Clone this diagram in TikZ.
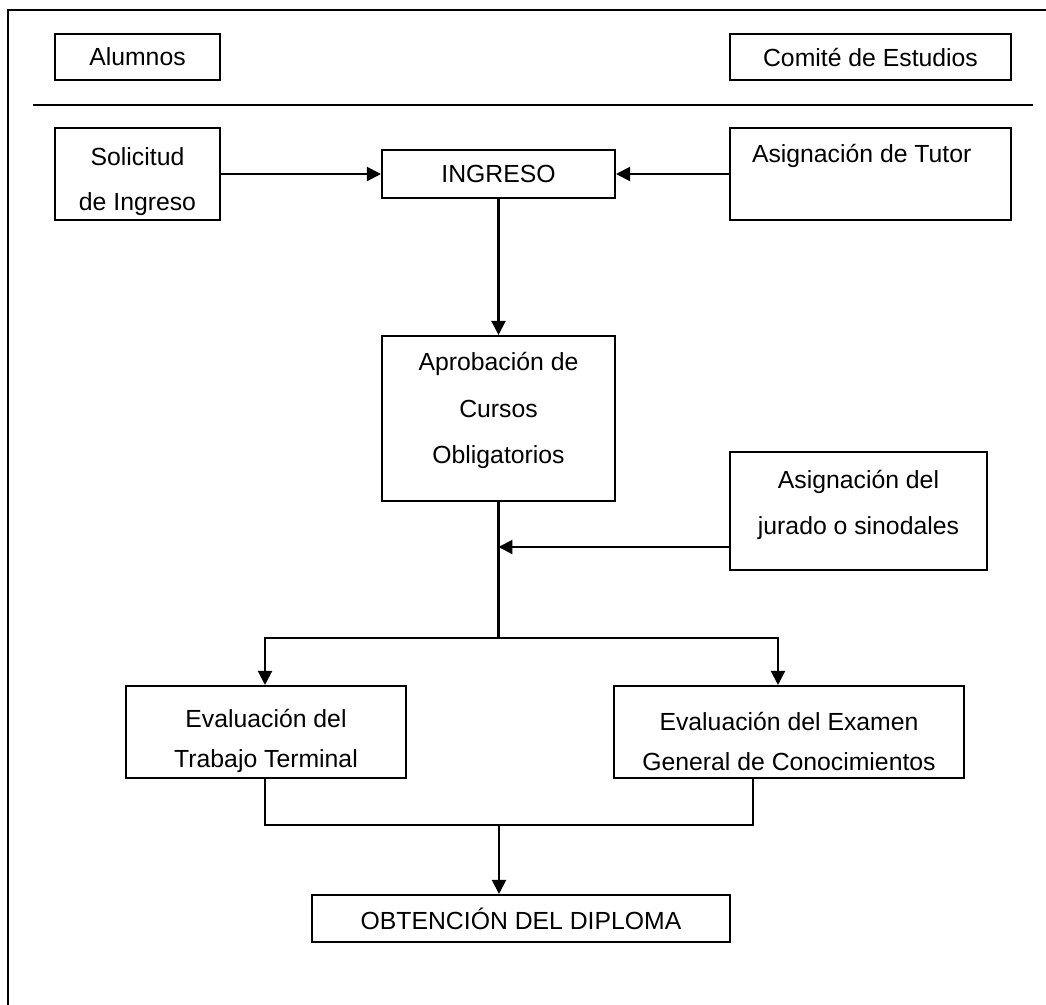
\documentclass[tikz,border=0pt]{standalone}
\usepackage{fontspec}
\setmainfont{Liberation Sans}
\usetikzlibrary{positioning,calc,arrows,arrows.meta}
\tikzset{font=\fontsize{14.1pt}{26pt}\selectfont}
\newcommand{\alto}[1]{\rule{0pt}{#1}}
\newcommand{\hondo}[1]{\rule[-#1]{0pt}{#1}}

\begin{document}
\begin{tikzpicture}
	\begin{scope}[x=0.02cm, y=-0.02cm]
		\tikzstyle{every node}=[align=center, inner sep=0pt]
		\tikzstyle{caja}=[draw, line width=1.2pt]
		\tikzstyle{linea}=[line width=1.2pt]
		\tikzstyle{flecha}=[linea, -{Triangle[length=0.28cm,width=0.28cm]}]
		\useasboundingbox (0, 0) rectangle (1046, 1005);

		\draw [linea] (8, 1005) -- (8, 10) -- (1046, 10);
		\draw [linea] (33, 105) -- (1033, 105);

		\node[caja, minimum width=3.3cm, minimum height=0.92cm] (alum) at (137.5, 57) {Alumnos};
		\node[caja, minimum width=5.62cm, minimum height=0.92cm] (comite) at (870.5, 57) {Comité de Estudios};

		\node[caja, minimum width=3.3cm, minimum height=1.84cm, font=\fontsize{14.1pt}{25.6pt}\selectfont] (soli) at (137.5, 174) {\alto{19pt}Solicitud\\de Ingreso};
		\node[caja, minimum width=4.66cm, minimum height=0.96cm] (ingreso) at (498.5, 174) {INGRESO};
		\node[caja, minimum width=5.62cm, minimum height=1.84cm] (tutor) at (870.5, 174) {Asignación de Tutor\hspace*{10pt}\hondo{23pt}};

		\node[caja, minimum width=4.66cm, minimum height=3.3cm, font=\fontsize{14.1pt}{26.7pt}\selectfont] (aprob) at (498.5, 418.5) {Aprobación de\\Cursos\\Obligatorios\hondo{12pt}};
		\node[caja, minimum width=5.14cm, minimum height=2.36cm] (jurado) at (858.5, 511) {Asignación del\\jurado o sinodales\hondo{10pt}};

		\node[caja, minimum width=5.6cm, minimum height=1.84cm, font=\fontsize{14.1pt}{22.8pt}\selectfont] (evtt) at (266, 732) {\alto{21pt}Evaluación del\\Trabajo Terminal};
		\node[caja, minimum width=7.0cm, minimum height=1.84cm, font=\fontsize{14.1pt}{22.8pt}\selectfont] (evex) at (789, 732) {\alto{21pt}Evaluación del Examen\\General de Conocimientos};

		\node[caja, minimum width=8.36cm, minimum height=0.94cm] (diploma) at (521, 918.5) {OBTENCIÓN DEL DIPLOMA};

		\coordinate (rama) at (498.5, 638);
		\coordinate (entrada) at (498.5, 547);
		\coordinate (derecha) at (778, 638);
		\coordinate (juntaL) at (265, 825);
		\coordinate (juntaR) at (753, 825);
		\coordinate (juntaM) at (499, 825);

		\draw [flecha] (soli) to (ingreso);
		\draw [flecha] (tutor) to (ingreso);
		\draw [flecha] (ingreso) to (aprob);
		\draw [linea] (aprob) to (rama);
		\draw [flecha] (jurado.west |- entrada) to (entrada);
		\draw [flecha] (rama) -| (evtt.north -| juntaL);
		\draw [flecha] (rama) -- (derecha) -- (derecha |- evex.north);
		\draw [linea] (evtt.south -| juntaL) -- (juntaL) -- (juntaR) -- (juntaR |- evex.south);
		\draw [flecha] (juntaM) to (juntaM |- diploma.north);
	\end{scope}
\end{tikzpicture}
\end{document}
